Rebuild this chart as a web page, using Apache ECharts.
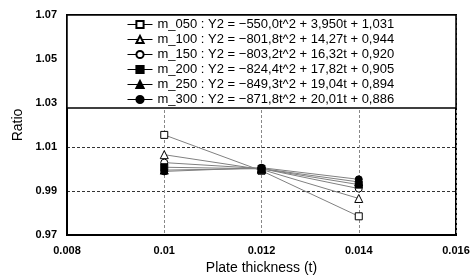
<!DOCTYPE html>
<html>
<head>
<meta charset="utf-8">
<script src="https://cdn.jsdelivr.net/npm/echarts@6/dist/echarts.min.js"></script>
<style>
  html, body { margin: 0; padding: 0; background: #fff; }
  #main { width: 476px; height: 280px; }
</style>
</head>
<body>
<div id="main"></div>
<script>
// plate thickness
const thickness = [0.010, 0.012, 0.014];
// series names and fitted equations shown in legend
const seriesNames = ['m_050', 'm_100', 'm_150', 'm_200', 'm_250', 'm_300'];
const equations = [
  'Y2 = −550,0t^2 + 3,950t + 1,031',
  'Y2 = −801,8t^2 + 14,27t + 0,944',
  'Y2 = −803,2t^2 + 16,32t + 0,920',
  'Y2 = −824,4t^2 + 17,82t + 0,905',
  'Y2 = −849,3t^2 + 19,04t + 0,894',
  'Y2 = −871,8t^2 + 20,01t + 0,886'
];
// ratio values read at 0.010, 0.012, 0.014
const m050 = [1.0155, 0.9992, 0.9785];
const m100 = [1.0065, 0.9998, 0.9866];
const m150 = [1.0029, 1.0002, 0.9911];
const m200 = [1.0008, 1.0001, 0.9929];
const m250 = [0.9995, 1.0002, 0.9941];
const m300 = [0.9989, 1.0006, 0.9953];
const allValues = [m050, m100, m150, m200, m250, m300];

const symbols = ['rect', 'triangle', 'circle', 'rect', 'triangle', 'circle'];
const filled = [false, false, false, true, true, true];

const chart = echarts.init(document.getElementById('main'));

const series = seriesNames.map((name, i) => ({
  name: name,
  type: 'line',
  data: thickness.map((t, j) => [t, allValues[i][j]]),
  symbol: symbols[i],
  symbolSize: symbols[i] === 'triangle' ? 8 : 7,
  lineStyle: { color: '#808080', width: 1 },
  itemStyle: {
    color: filled[i] ? '#000' : '#fff',
    borderColor: '#000',
    borderWidth: 1
  },
  z: 3
}));

chart.setOption({
  animation: false,
  grid: {
    left: 67, right: 20, top: 15, bottom: 42,
    show: true, borderColor: '#000', borderWidth: 2
  },
  // legend box background covering the upper part of the plot
  graphic: [{
    type: 'rect',
    z: 10,
    shape: { x: 67, y: 15, width: 389, height: 93 },
    style: { fill: '#fff', stroke: '#000', lineWidth: 1.5 }
  }],
  legend: {
    orient: 'vertical',
    left: 122,
    top: 13,
    z: 20,
    itemGap: 2,
    itemWidth: 25,
    itemHeight: 9,
    lineStyle: { color: '#000', width: 1 },
    textStyle: { fontFamily: 'Liberation Sans', fontSize: 13, lineHeight: 13, color: '#000' },
    formatter: name => name + ' : ' + equations[seriesNames.indexOf(name)],
    data: seriesNames
  },
  xAxis: {
    type: 'value',
    min: 0.008, max: 0.016, interval: 0.002,
    name: 'Plate thickness (t)',
    nameLocation: 'middle',
    nameGap: 26,
    nameTextStyle: { fontFamily: 'Liberation Sans', fontSize: 14, color: '#000' },
    axisLine: { show: true, lineStyle: { color: '#000', width: 2 } },
    axisTick: { show: false },
    axisLabel: {
      fontFamily: 'Liberation Sans', fontWeight: 'bold', fontSize: 11, color: '#000', margin: 10,
      formatter: v => String(+v.toFixed(3))
    },
    splitLine: { show: true, lineStyle: { color: '#888', type: [3, 2], width: 1 } }
  },
  yAxis: {
    type: 'value',
    min: 0.97, max: 1.07, interval: 0.02,
    name: 'Ratio',
    nameLocation: 'middle',
    nameGap: 38,
    nameTextStyle: { fontFamily: 'Liberation Sans', fontSize: 14, color: '#000' },
    axisLine: { show: true, lineStyle: { color: '#000', width: 2 } },
    axisTick: { show: false },
    axisLabel: {
      fontFamily: 'Liberation Sans', fontWeight: 'bold', fontSize: 11, color: '#000', margin: 10,
      formatter: v => v.toFixed(2)
    },
    splitLine: { show: true, lineStyle: { color: '#333', type: [3, 2], width: 1 } }
  },
  series: series
});
</script>
</body>
</html>
